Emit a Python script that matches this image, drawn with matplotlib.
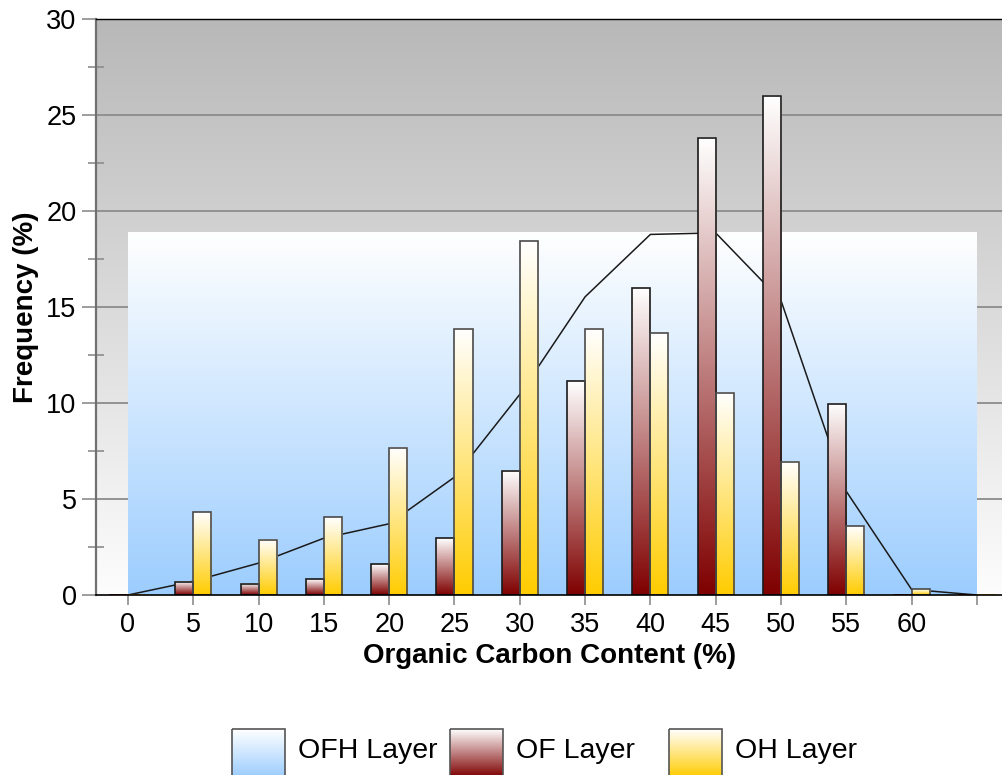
import numpy as np
import matplotlib
matplotlib.use("Agg")
import matplotlib.pyplot as plt
from matplotlib.colors import to_rgb
from matplotlib.patches import Rectangle

plt.rcParams['font.family'] = ['Liberation Sans', 'DejaVu Sans']

# ---------------- data ----------------
categories = [0, 5, 10, 15, 20, 25, 30, 35, 40, 45, 50, 55, 60, 65]
tick_labels = ['0', '5', '10', '15', '20', '25', '30', '35', '40', '45', '50', '55', '60', '']
ofh_layer = [0, 0.72, 1.66, 2.96, 3.71, 6.14, 10.45, 15.53, 18.78, 18.86, 15.34, 5.40, 0.29, 0]
of_layer = [0, 0.70, 0.58, 0.81, 1.61, 2.96, 6.47, 11.12, 16.0, 23.82, 26.0, 9.97, 0, 0]
oh_layer = [0, 4.32, 2.88, 4.06, 7.66, 13.88, 18.42, 13.87, 13.62, 10.54, 6.94, 3.59, 0.29, 0]
series_names = ['OFH Layer', 'OF Layer', 'OH Layer']

# ---------------- style ----------------
W, H = 1003, 775
fig = plt.figure(figsize=(W / 100, H / 100), dpi=100)

ax_l, ax_r, ax_b, ax_t = 96, 1003, 595, 19
ax = fig.add_axes([ax_l / W, 1 - ax_b / H, (ax_r - ax_l) / W, (ax_b - ax_t) / H])
ax.set_xlim(-2.45, 67.0)
ax.set_ylim(0, 30)


def grad(top, bottom, n=256):
    t = np.linspace(0, 1, n)[:, None]
    a = np.array(to_rgb(top))[None, :]
    b = np.array(to_rgb(bottom))[None, :]
    return (a * (1 - t) + b * t)[:, None, :]


# background gradient
ax.imshow(grad('#b8b8b8', '#fdfdfd'), extent=[0, 1, 0, 1], transform=ax.transAxes,
          aspect='auto', zorder=0, interpolation='bilinear')

# gridlines
for y in range(5, 30, 5):
    ax.axhline(y, color='#8c8c8c', lw=1.3, zorder=1)

# OFH area (rendered as gradient block) and outline
ofh_color_top, ofh_color_bot = '#ffffff', '#9ccdfe'
ax.imshow(grad(ofh_color_top, ofh_color_bot),
          extent=[categories[0], categories[-1], 0, max(ofh_layer)],
          aspect='auto', zorder=2, interpolation='bilinear')
ax.plot(categories, ofh_layer, color='#1a1a1a', lw=1.1, zorder=3)

# bars
bw = 1.38
of_bot = '#7f0000'
oh_bot = '#ffcc00'
for c, v1, v2 in zip(categories, of_layer, oh_layer):
    for x0, v, bot, ec in ((c - bw, v1, of_bot, '#1a1a1a'), (c, v2, oh_bot, '#4a4a4a')):
        if v > 0:
            ax.imshow(grad('#ffffff', bot), extent=[x0, x0 + bw, 0, v], aspect='auto',
                      zorder=4, interpolation='bilinear')
            ax.add_patch(Rectangle((x0, 0), bw, v, fill=False, ec=ec, lw=1.2, zorder=5))
        else:
            ax.plot([x0, x0 + bw], [0, 0], color=bot, lw=2, zorder=5)

ax.set_xlim(-2.45, 67.0)
ax.set_ylim(0, 30)

# spines
ax.spines['right'].set_visible(False)
ax.spines['left'].set_color('#707070')
ax.spines['left'].set_linewidth(1.6)
ax.spines['bottom'].set_color('#000000')
ax.spines['bottom'].set_linewidth(1.2)
ax.spines['top'].set_color('#000000')
ax.spines['top'].set_linewidth(1.0)
for s in ax.spines.values():
    s.set_zorder(6)

# ticks
ax.set_xticks(categories)
ax.set_xticklabels(tick_labels)
ax.set_yticks(range(0, 31, 5))
ax.set_yticks(np.arange(2.5, 30, 5), minor=True)
ax.tick_params(axis='y', which='major', direction='out', length=10, width=1.2,
               color='#8c8c8c', labelsize=19.5, pad=4)
ax.tick_params(axis='y', which='minor', direction='inout', length=12, width=1.2,
               color='#8c8c8c')
ax.tick_params(axis='x', which='major', direction='out', length=7, width=1.2,
               color='#8c8c8c', labelsize=19.5, pad=5)

ax.set_xlabel('Organic Carbon Content (%)', fontsize=20, fontweight='bold', labelpad=4)
ax.set_ylabel('Frequency (%)', fontsize=20, fontweight='bold', labelpad=5)

# legend (drawn manually with gradient swatches)
lax = fig.add_axes([0, 0, 1, 1], zorder=10)
lax.set_xlim(0, W)
lax.set_ylim(H, 0)
lax.axis('off')
swatches = [(232, 285, ofh_color_bot), (450, 503, of_bot), (669, 722, oh_bot)]
for (x0, x1, bot), name in zip(swatches, series_names):
    lax.imshow(grad('#ffffff', bot), extent=[x0, x1, 777, 729], aspect='auto',
               interpolation='bilinear')
    lax.add_patch(Rectangle((x0, 729), x1 - x0, 48, fill=False, ec='#555555', lw=1.2))
    lax.text(x1 + 13, 751, name, fontsize=20.5, va='center', ha='left')
lax.set_xlim(0, W)
lax.set_ylim(H, 0)

fig.savefig('out.png', dpi=100)
